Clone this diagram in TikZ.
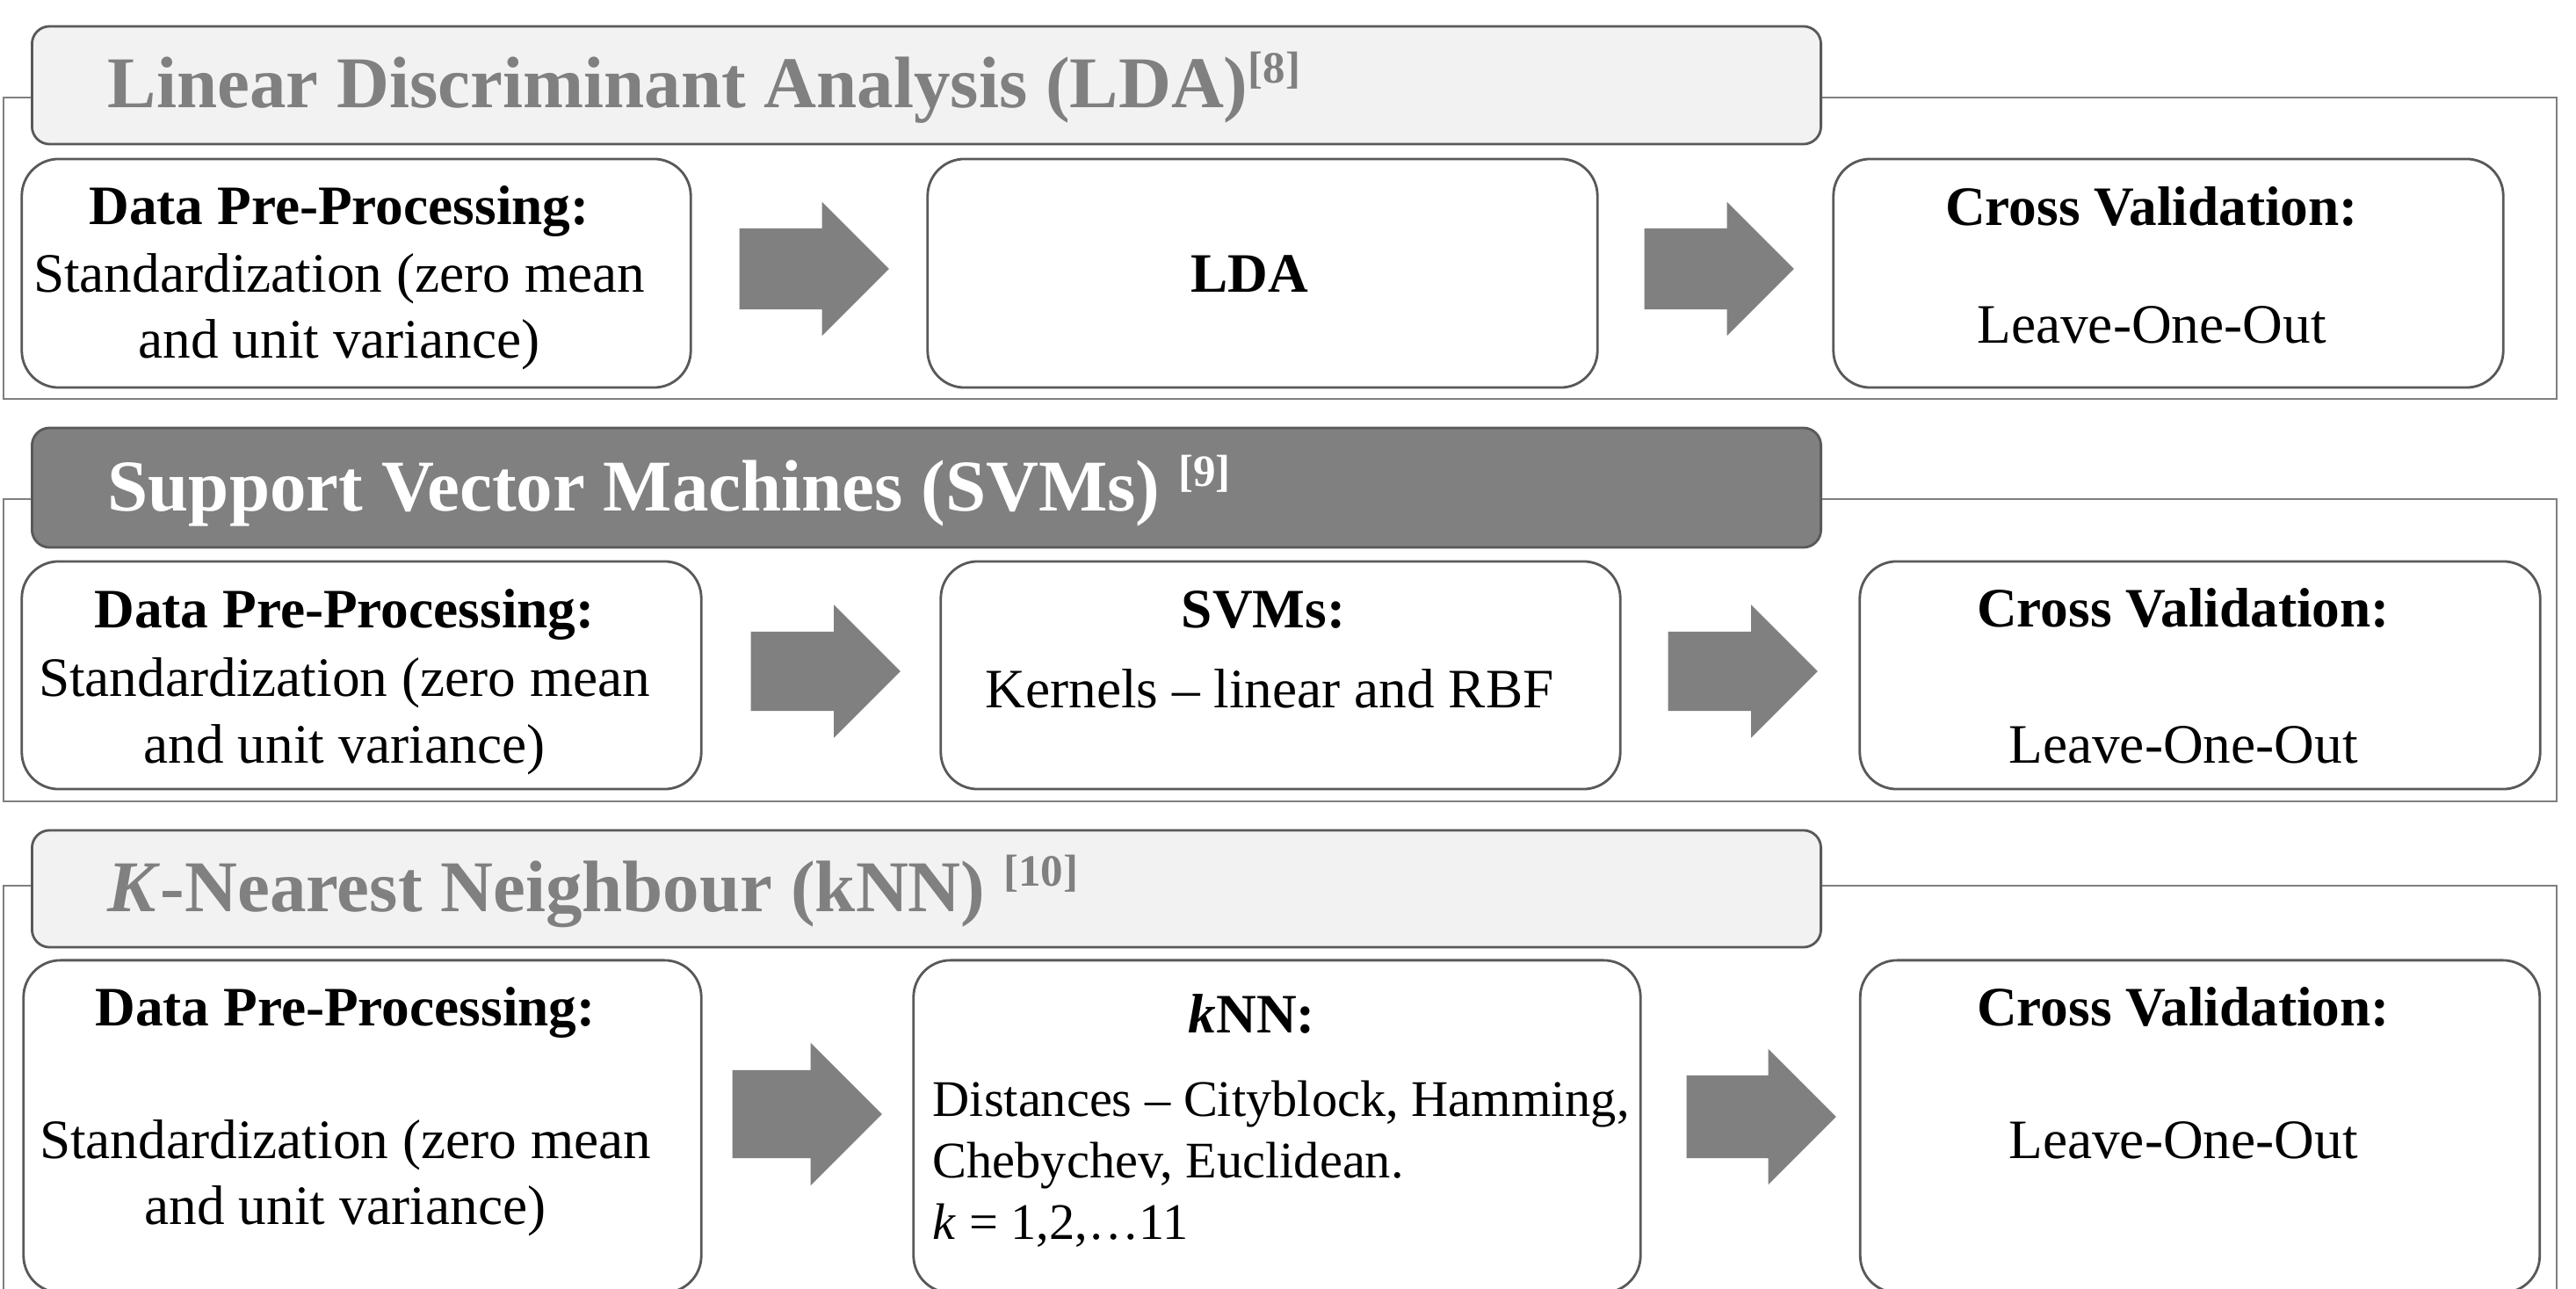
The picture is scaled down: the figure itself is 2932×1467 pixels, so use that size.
\documentclass[tikz,border=0pt]{standalone}
\usepackage{fontspec}
\setmainfont{Liberation Serif}
\usetikzlibrary{shapes.arrows}

\definecolor{tabfill}{HTML}{F2F2F2}
\definecolor{titlegray}{HTML}{808080}
\definecolor{edgegray}{HTML}{595959}
\definecolor{framegray}{HTML}{7F7F7F}

\newcommand{\refmark}[1]{\raisebox{0.28cm}{\fontsize{14.5}{16}\selectfont #1}}

\begin{document}
\begin{tikzpicture}[x=0.01cm, y=-0.01cm,
    outline/.style={draw=framegray, line width=0.8pt},
    titletab/.style={draw=edgegray, line width=0.8pt, rounded corners=0.2cm, inner sep=0pt, minimum width=20.35cm},
    procbox/.style={draw=edgegray, line width=0.8pt, rounded corners=0.42cm, fill=white, inner sep=0pt},
    blockarrow/.style={single arrow, fill=titlegray, inner xsep=0pt, anchor=tail,
      single arrow tip angle=90, minimum height=1.70cm},
    headtitle/.style={anchor=base west, inner sep=0pt, font=\fontsize{23.6}{28}\selectfont\bfseries},
    txt/.style={anchor=base, inner sep=0pt, font=\fontsize{18}{22}\selectfont},
    listtxt/.style={anchor=base west, inner sep=0pt, font=\fontsize{16.6}{20}\selectfont}]

  \useasboundingbox (0,0) rectangle (2932,1467);
  \clip (0,0) rectangle (2932,1467);

  % outer frames
  \draw[outline] (4,111) rectangle (2910,454);
  \draw[outline] (4,568) rectangle (2910,912);
  \draw[outline] (4,1008) rectangle (2910,1530);

  % title tabs
  \node[titletab, fill=tabfill, minimum height=1.34cm] (tab1) at (1054.5,97) {};
  \node[titletab, fill=titlegray, minimum height=1.36cm] (tab2) at (1054.5,555) {};
  \node[titletab, fill=tabfill, minimum height=1.33cm] (tab3) at (1054.5,1011.5) {};

  \node[headtitle, text=titlegray] (ttl1) at (122,123) {Linear Discriminant Analysis (LDA)\refmark{[8]}};
  \node[headtitle, text=white] (ttl2) at (122,582) {Support Vector Machines (SVMs) \refmark{[9]}};
  \node[headtitle, text=titlegray] (ttl3) at (122,1037) {\textit{K}-Nearest Neighbour (kNN) \refmark{[10]}};

  % LDA row
  \node[procbox, minimum width=7.61cm, minimum height=2.60cm] (b11) at (405.5,311) {};
  \node[procbox, minimum width=7.62cm, minimum height=2.60cm] (b12) at (1437,311) {};
  \node[procbox, minimum width=7.62cm, minimum height=2.60cm] (b13) at (2468,311) {};
  \node[blockarrow, inner ysep=0.455cm, single arrow head extend=0.30cm] (a11) at (841,306) {};
  \node[blockarrow, inner ysep=0.455cm, single arrow head extend=0.30cm] (a12) at (1871,306) {};

  \node[txt] (t11a) at (386,256) {\textbf{Data Pre-Processing:}};
  \node[txt] (t11b) at (386,333) {Standardization (zero mean};
  \node[txt] (t11c) at (386,408) {and unit variance)};
  \node[txt] (t12a) at (1422,333) {\textbf{LDA}};
  \node[txt] (t13a) at (2449,257) {\textbf{Cross Validation:}};
  \node[txt] (t13b) at (2449,391) {Leave-One-Out};

  % SVM row
  \node[procbox, minimum width=7.73cm, minimum height=2.59cm] (b21) at (411.5,768.5) {};
  \node[procbox, minimum width=7.73cm, minimum height=2.59cm] (b22) at (1457.5,768.5) {};
  \node[procbox, minimum width=7.74cm, minimum height=2.59cm] (b23) at (2504,768.5) {};
  \node[blockarrow, inner ysep=0.445cm, single arrow head extend=0.305cm] (a21) at (854,764) {};
  \node[blockarrow, inner ysep=0.445cm, single arrow head extend=0.305cm] (a22) at (1898,764) {};

  \node[txt] (t21a) at (392,715) {\textbf{Data Pre-Processing:}};
  \node[txt] (t21b) at (392,792) {Standardization (zero mean};
  \node[txt] (t21c) at (392,868) {and unit variance)};
  \node[txt] (t22a) at (1438,715) {\textbf{SVMs:}};
  \node[txt] (t22b) at (1445,806) {Kernels – linear and RBF};
  \node[txt] (t23a) at (2485,713) {\textbf{Cross Validation:}};
  \node[txt] (t23b) at (2485,868) {Leave-One-Out};

  % kNN row
  \node[procbox, minimum width=7.71cm, minimum height=3.78cm] (b31) at (412.5,1282) {};
  \node[procbox, minimum width=8.27cm, minimum height=3.78cm] (b32) at (1453.5,1282) {};
  \node[procbox, minimum width=7.73cm, minimum height=3.78cm] (b33) at (2504,1282) {};
  \node[blockarrow, inner ysep=0.495cm, single arrow head extend=0.31cm] (a31) at (833,1268) {};
  \node[blockarrow, inner ysep=0.465cm, single arrow head extend=0.30cm] (a32) at (1919,1271) {};

  \node[txt] (t31a) at (393,1167) {\textbf{Data Pre-Processing:}};
  \node[txt] (t31b) at (393,1318) {Standardization (zero mean};
  \node[txt] (t31c) at (393,1393) {and unit variance)};
  \node[txt] (t32a) at (1425,1175) {\textbf{\textit{k}NN:}};
  \node[listtxt] (t32b) at (1061,1270) {Distances – Cityblock, Hamming,};
  \node[listtxt] (t32c) at (1061,1340) {Chebychev, Euclidean.};
  \node[listtxt] (t32d) at (1061,1410) {\textit{k} = 1,2,…11};
  \node[txt] (t33a) at (2485,1167) {\textbf{Cross Validation:}};
  \node[txt] (t33b) at (2485,1318) {Leave-One-Out};
\end{tikzpicture}
\end{document}
